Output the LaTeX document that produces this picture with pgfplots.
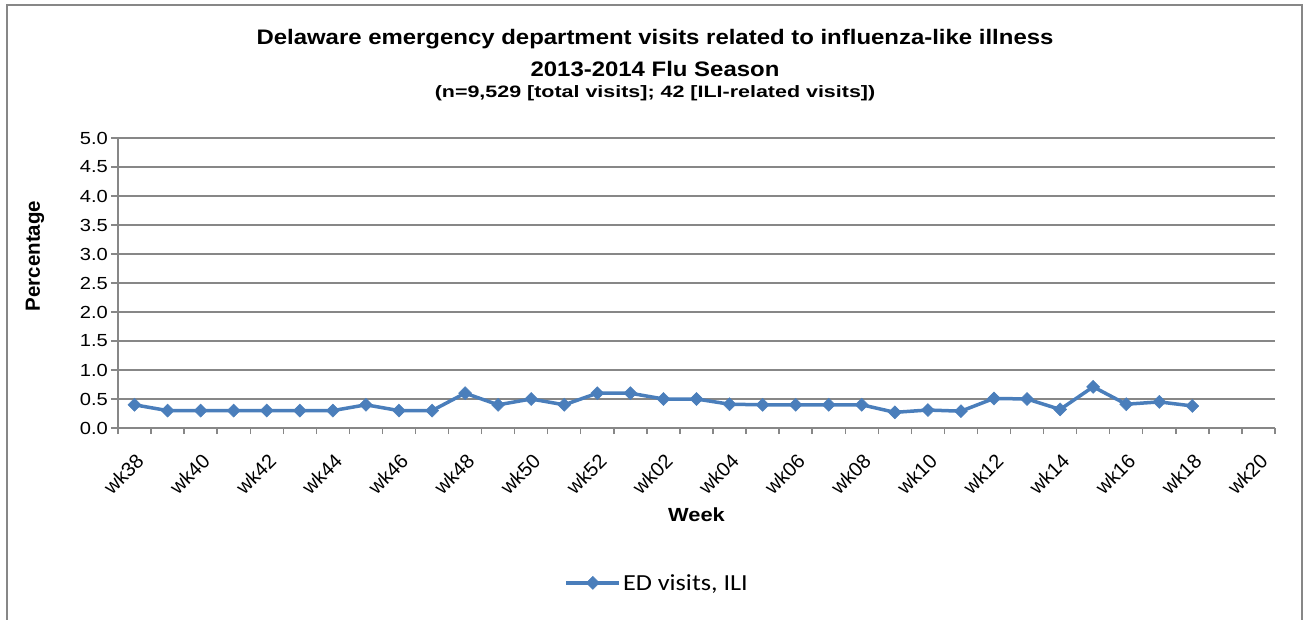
\documentclass[border=0pt]{standalone}
\usepackage{graphicx}
\usepackage{pgfplots}
\pgfplotsset{compat=1.18}
\usepackage{fontspec}
\setmainfont{Liberation Sans}
\newfontfamily\calibri{Carlito}
\definecolor{serblue}{HTML}{4A7EBB}
\definecolor{gridgray}{HTML}{878787}
\newcommand\sx[1]{\scalebox{1.15}[1]{#1}}
\begin{document}
\begin{tikzpicture}
\path[use as bounding box] (0,0) rectangle (1304pt,619pt);
\draw[gridgray, line width=1.8pt] (7pt,-20pt) -- (7pt,614pt) -- (1302pt,614pt) -- (1302pt,-20pt);
\node[anchor=base, inner sep=0pt, font=\fontsize{21}{24}\selectfont\bfseries] at (655pt,574pt) {\scalebox{1.14}[1]{Delaware emergency department visits related to influenza-like illness}};
\node[anchor=base, inner sep=0pt, font=\fontsize{21}{24}\selectfont\bfseries] at (655pt,542pt) {\scalebox{1.14}[1]{2013-2014 Flu Season}};
\node[anchor=base, inner sep=0pt, font=\fontsize{16.5}{19}\selectfont\bfseries] at (655pt,521pt) {\scalebox{1.3}[1]{(n=9,529 [total visits]; 42 [ILI-related visits])}};
\begin{axis}[
  at={(118pt,191pt)}, anchor=south west,
  scale only axis, width=1157pt, height=290pt,
  xmin=-0.5, xmax=34.5, ymin=0, ymax=5,
  axis lines*=left,
  axis line style={gridgray, line width=1.6pt},
  ytick={0,0.5,1,1.5,2,2.5,3,3.5,4,4.5,5},
  yticklabels={\sx{0.0},\sx{0.5},\sx{1.0},\sx{1.5},\sx{2.0},\sx{2.5},\sx{3.0},\sx{3.5},\sx{4.0},\sx{4.5},\sx{5.0}},
  ymajorgrids, grid style={gridgray, line width=1.4pt},
  xtick={0,2,4,6,8,10,12,14,16,18,20,22,24,26,28,30,32,34},
  xticklabels={wk38,wk40,wk42,wk44,wk46,wk48,wk50,wk52,wk02,wk04,wk06,wk08,wk10,wk12,wk14,wk16,wk18,wk20},
  minor xtick={-0.5,0.5,...,34.5},
  major x tick style={draw=none},
  tick align=outside,
  major tick length=7pt, minor tick length=6pt,
  tick style={gridgray, line width=1.4pt},
  yticklabel style={font=\fontsize{17.5}{20}\selectfont, inner sep=2pt, xshift=-1pt},
  xticklabel style={font=\fontsize{20}{23}\selectfont, rotate=45, anchor=east, inner sep=1pt, xshift=-11pt, yshift=-20pt},
  xlabel={\sx{Week}}, ylabel={Percentage},
  xlabel style={font=\fontsize{19}{22}\selectfont\bfseries, at={(0.5,-0.30)}, anchor=center},
  ylabel style={font=\fontsize{20.5}{23}\selectfont\bfseries, at={(-0.0717,0.593)}, anchor=center},
  legend style={draw=none, font=\calibri\fontsize{23}{27}\selectfont, at={(0.466,-0.534)}, anchor=center},
  legend image code/.code={\draw[mark repeat=2,mark phase=2,#1] plot coordinates {(0pt,0pt) (26.5pt,0pt) (53pt,0pt)};},
]
\addplot[serblue, line width=3.5pt, mark=square*, mark size=4.6pt, mark options={rotate=45, solid, line width=0.5pt}] coordinates {
(0,0.4)(1,0.3)(2,0.3)(3,0.3)(4,0.3)(5,0.3)(6,0.3)(7,0.4)(8,0.3)(9,0.3)
(10,0.6)(11,0.4)(12,0.5)(13,0.4)(14,0.6)(15,0.6)(16,0.5)(17,0.5)(18,0.41)(19,0.4)
(20,0.4)(21,0.4)(22,0.4)(23,0.27)(24,0.31)(25,0.29)(26,0.51)(27,0.5)(28,0.32)(29,0.71)
(30,0.41)(31,0.45)(32,0.38)
};
\addlegendentry{\scalebox{1.14}[1]{ED visits, ILI}}
\end{axis}
\end{tikzpicture}
\end{document}
